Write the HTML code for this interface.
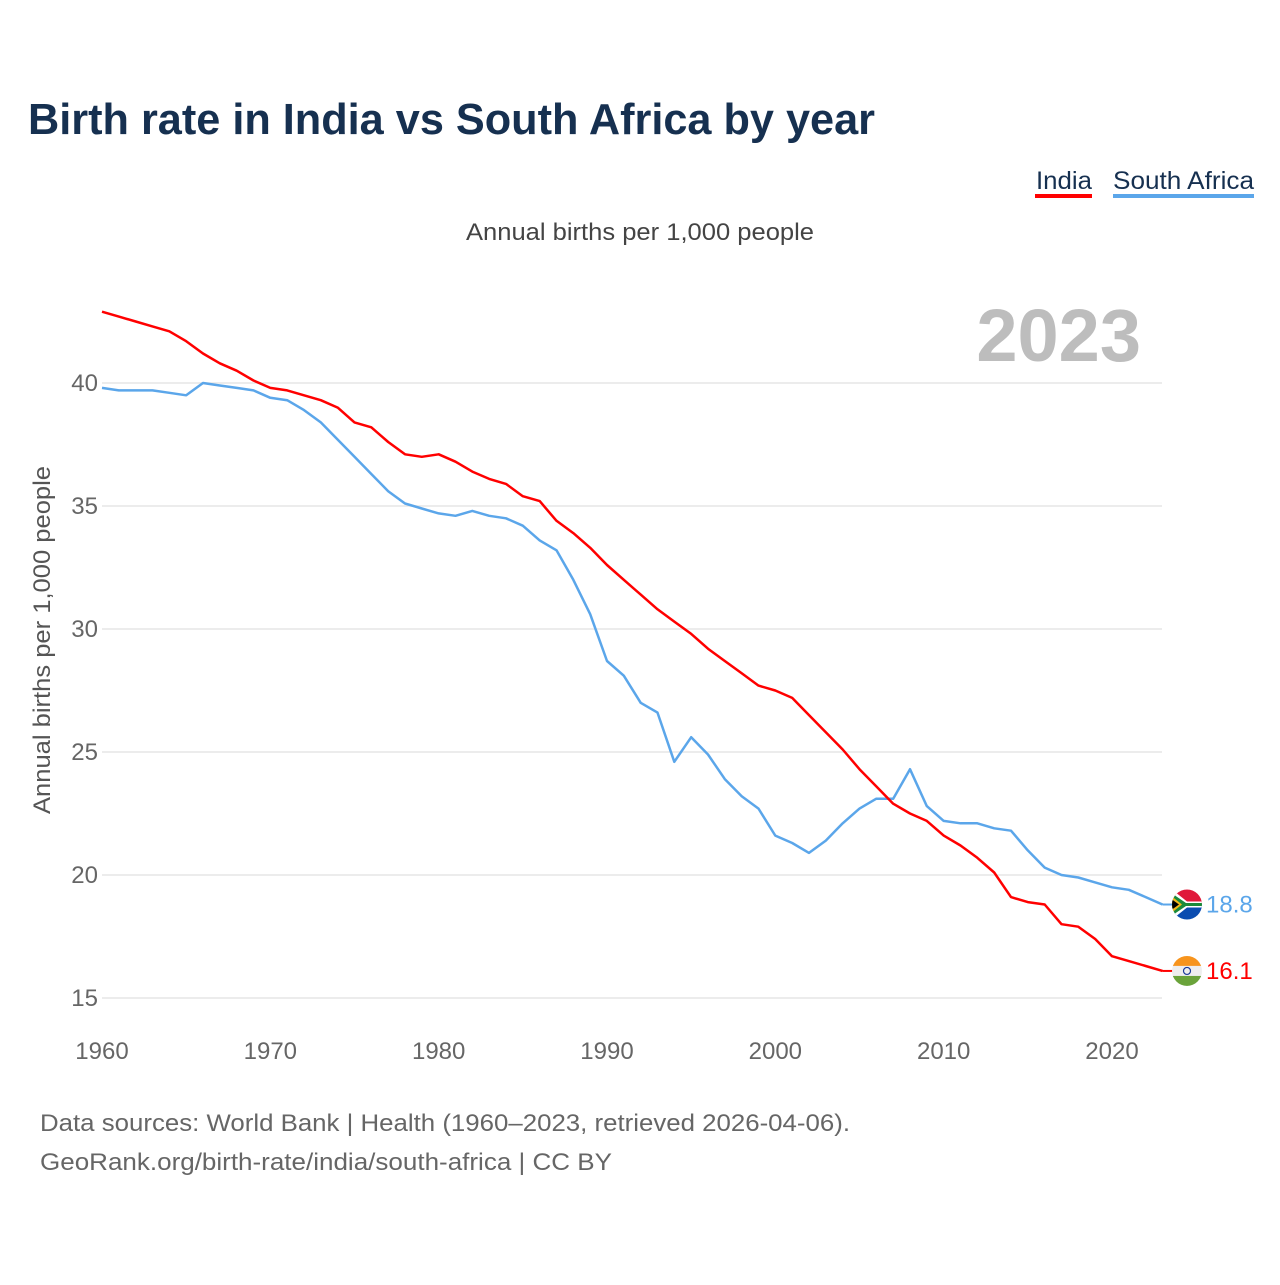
<!DOCTYPE html>
<html><head><meta charset="utf-8"><style>
html,body{margin:0;padding:0;background:#fff;}
svg text{font-family:"Liberation Sans",sans-serif;}
</style></head><body>
<svg id="chart" width="1280" height="1280" viewBox="0 0 1280 1280" xmlns="http://www.w3.org/2000/svg">
<rect width="1280" height="1280" fill="#fff"/>
<text x="28" y="134" font-size="44" font-weight="bold" fill="#163050" textLength="847" lengthAdjust="spacingAndGlyphs">Birth rate in India vs South Africa by year</text>
<g>
<text x="1036" y="189" font-size="25" fill="#163050" textLength="56" lengthAdjust="spacingAndGlyphs">India</text>
<rect x="1035" y="194" width="57" height="4" fill="#ff0000"/>
<text x="1113" y="189" font-size="25" fill="#163050" textLength="141" lengthAdjust="spacingAndGlyphs">South Africa</text>
<rect x="1113" y="194" width="141" height="4" fill="#5ba6ea"/>
</g>
<text x="640" y="240" font-size="24" fill="#444" text-anchor="middle" textLength="348" lengthAdjust="spacingAndGlyphs">Annual births per 1,000 people</text>
<text x="1141" y="361" font-size="74" font-weight="bold" fill="#bdbdbd" text-anchor="end">2023</text>
<text transform="translate(50,640) rotate(-90)" font-size="24" fill="#555" text-anchor="middle" textLength="348" lengthAdjust="spacingAndGlyphs">Annual births per 1,000 people</text>
<g id="grid"></g><g id="xticks"></g><g id="lines"></g><g id="ends"></g>
<text x="40" y="1131" font-size="24" fill="#666" textLength="810" lengthAdjust="spacingAndGlyphs">Data sources: World Bank | Health (1960–2023, retrieved 2026-04-06).</text>
<text x="40" y="1170" font-size="24" fill="#666" textLength="572" lengthAdjust="spacingAndGlyphs">GeoRank.org/birth-rate/india/south-africa | CC BY</text>
</svg>
<script>
const years = [];
for (let y = 1960; y <= 2023; y++) years.push(y);
const india = [42.9,42.7,42.5,42.3,42.1,41.7,41.2,40.8,40.5,40.1,39.8,39.7,39.5,39.3,39.0,38.4,38.2,37.6,37.1,37.0,37.1,36.8,36.4,36.1,35.9,35.4,35.2,34.4,33.9,33.3,32.6,32.0,31.4,30.8,30.3,29.8,29.2,28.7,28.2,27.7,27.5,27.2,26.5,25.8,25.1,24.3,23.6,22.9,22.5,22.2,21.6,21.2,20.7,20.1,19.1,18.9,18.8,18.0,17.9,17.4,16.7,16.5,16.3,16.1];
const southAfrica = [39.8,39.7,39.7,39.7,39.6,39.5,40.0,39.9,39.8,39.7,39.4,39.3,38.9,38.4,37.7,37.0,36.3,35.6,35.1,34.9,34.7,34.6,34.8,34.6,34.5,34.2,33.6,33.2,32.0,30.6,28.7,28.1,27.0,26.6,24.6,25.6,24.9,23.9,23.2,22.7,21.6,21.3,20.9,21.4,22.1,22.7,23.1,23.1,24.3,22.8,22.2,22.1,22.1,21.9,21.8,21.0,20.3,20.0,19.9,19.7,19.5,19.4,19.1,18.8];
const yTicks = [15,20,25,30,35,40];
const xTicks = [1960,1970,1980,1990,2000,2010,2020];
const endLabels = ["16.1","18.8"];

const NS = "http://www.w3.org/2000/svg";
const xs = y => 102 + (y - 1960) * (1010 / 60);
const ys = v => 383 + (40 - v) * 24.6;
function mk(tag, attrs, parent) {
  const e = document.createElementNS(NS, tag);
  for (const k in attrs) e.setAttribute(k, attrs[k]);
  parent.appendChild(e); return e;
}
const grid = document.getElementById('grid');
yTicks.forEach(t => {
  const l = mk('line', {x1: 102, x2: 1162, y1: ys(t), y2: ys(t), stroke: '#e6e6e6', 'stroke-width': 1.5}, grid);
  
  
  const tx = mk('text', {x: 98, y: ys(t) + 8, 'font-size': 24, fill: '#666', 'text-anchor': 'end'}, grid);
  tx.textContent = t;
  
  
});
const xt = document.getElementById('xticks');
xTicks.forEach(t => {
  const tx = mk('text', {x: xs(t), y: 1059, 'font-size': 24, fill: '#666', 'text-anchor': 'middle'}, xt);
  tx.textContent = t;
  
  
});
const lines = document.getElementById('lines');
function series(vals, color, name) {
  const d = vals.map((v, i) => (i ? 'L' : 'M') + xs(years[i]).toFixed(1) + ' ' + ys(v).toFixed(1)).join(' ');
  const p = mk('path', {d: d, fill: 'none', stroke: color, 'stroke-width': 2.5, 'stroke-linejoin': 'round'}, lines);
  
  
}
series(southAfrica, '#5ba6ea', 'line-south-africa');
series(india, '#ff0000', 'line-india');

const ends = document.getElementById('ends');
const last = years.length - 1;
{
  const cy = ys(southAfrica[last]), cx = 1187;
  mk('line', {x1: xs(years[last]), x2: cx - 14, y1: cy, y2: cy, stroke: '#5ba6ea', 'stroke-width': 2}, ends);
  const g = mk('g', {}, ends);
  
  
  const cpth = mk('clipPath', {id: 'cza'}, g);
  mk('circle', {cx: cx, cy: cy, r: 15}, cpth);
  const fg = mk('g', {'clip-path': 'url(#cza)'}, g);
  mk('rect', {x: cx - 15, y: cy - 15, width: 30, height: 15, fill: '#e0193a'}, fg);
  mk('rect', {x: cx - 15, y: cy, width: 30, height: 15, fill: '#0b4cb0'}, fg);
  mk('path', {d: `M${cx-15} ${cy-15} L${cx} ${cy-3} H${cx+15} V${cy+3} H${cx} L${cx-15} ${cy+15} Z`, fill: '#fff'}, fg);
  mk('path', {d: `M${cx-15} ${cy-11} L${cx-1} ${cy-1.5} H${cx+15} V${cy+1.5} H${cx-1} L${cx-15} ${cy+11} Z`, fill: '#1a8a3a'}, fg);
  mk('path', {d: `M${cx-15} ${cy-8} L${cx-5} ${cy} L${cx-15} ${cy+8} Z`, fill: '#f2b81a'}, fg);
  mk('path', {d: `M${cx-15} ${cy-5} L${cx-8} ${cy} L${cx-15} ${cy+5} Z`, fill: '#000'}, fg);
  const t = mk('text', {x: 1206, y: cy + 8, 'font-size': 24, fill: '#5ba6ea'}, ends);
  t.textContent = endLabels[1];
  
  
}
{
  const cy = ys(india[last]), cx = 1187;
  mk('line', {x1: xs(years[last]), x2: cx - 14, y1: cy, y2: cy, stroke: '#ff0000', 'stroke-width': 2}, ends);
  const g = mk('g', {}, ends);
  
  
  const cpth = mk('clipPath', {id: 'cin'}, g);
  mk('circle', {cx: cx, cy: cy, r: 15}, cpth);
  const fg = mk('g', {'clip-path': 'url(#cin)'}, g);
  mk('rect', {x: cx - 15, y: cy - 15, width: 30, height: 10, fill: '#f7941d'}, fg);
  mk('rect', {x: cx - 15, y: cy - 5, width: 30, height: 10, fill: '#eeeeee'}, fg);
  mk('rect', {x: cx - 15, y: cy + 5, width: 30, height: 10, fill: '#6aa33a'}, fg);
  mk('circle', {cx: cx, cy: cy, r: 3.5, fill: 'none', stroke: '#1a3a9a', 'stroke-width': 1.2}, fg);
  const t = mk('text', {x: 1206, y: cy + 8, 'font-size': 24, fill: '#ff0000'}, ends);
  t.textContent = endLabels[0];
  
  
}
</script>
</body></html>
